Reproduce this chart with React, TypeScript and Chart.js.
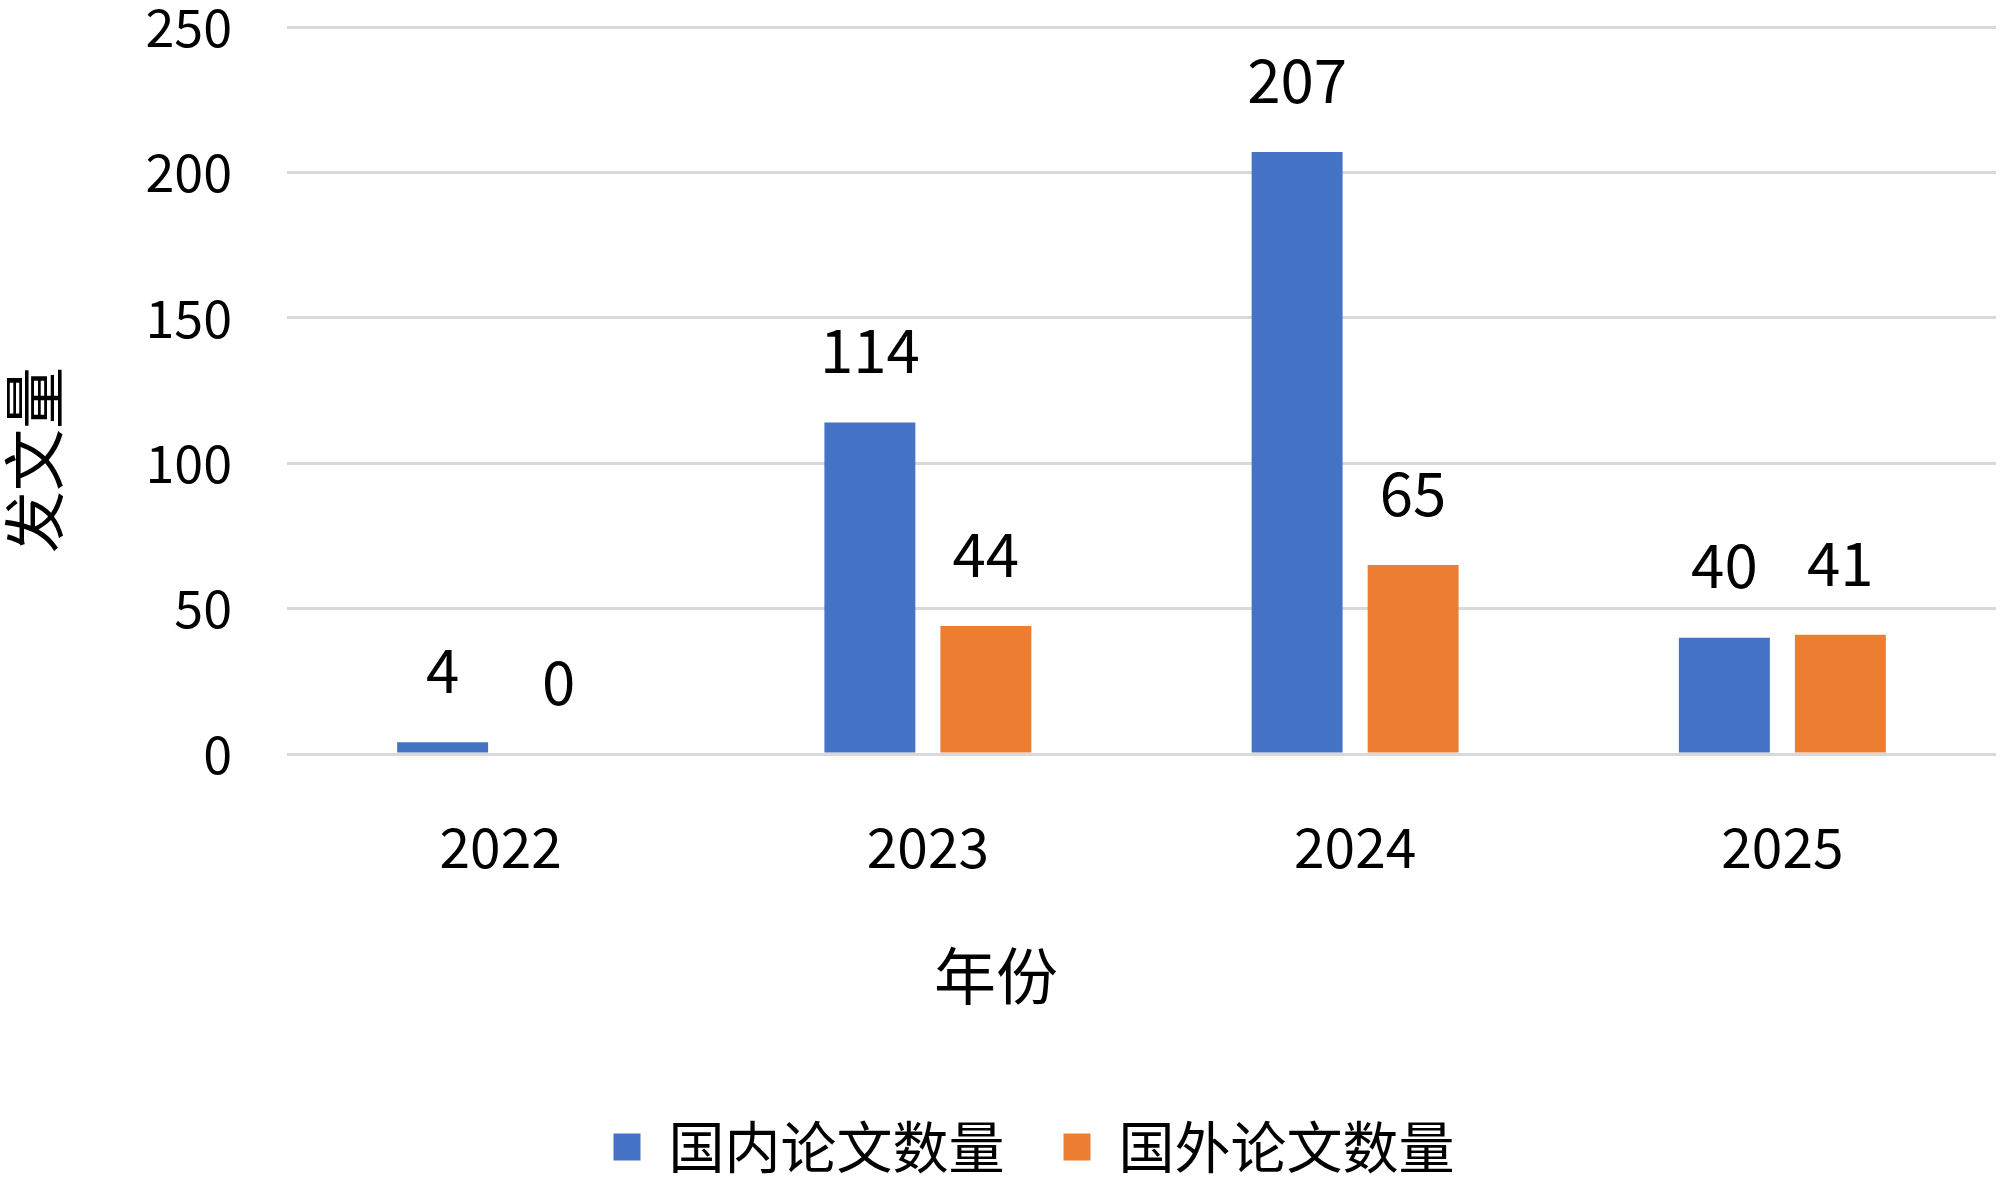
import React, { useEffect, useRef } from 'react';
import { Chart, registerables } from 'chart.js';

Chart.register(...registerables);

const categories = ['2022', '2023', '2024', '2025'];
const domesticPapers = [4, 114, 207, 40];
const foreignPapers = [0, 44, 65, 41];
const seriesNames = ['国内论文数量', '国外论文数量'];
const seriesColors = ['#4472C4', '#ED7D31'];
const yTickMin = 0;
const yTickMax = 250;
const yTickStep = 50;
const xAxisTitle = '年份';
const yAxisTitle = '发文量';

const FONT = '"Noto Sans CJK SC", "Noto Sans", sans-serif';
const W = 2000;
const H = 1185;

const dataLabelPlugin = {
  id: 'dataLabels',
  afterDatasetsDraw(chart: any) {
    const ctx = chart.ctx;
    ctx.save();
    ctx.font = `60px ${FONT}`;
    ctx.fillStyle = '#000';
    ctx.textAlign = 'center';
    ctx.textBaseline = 'middle';
    chart.data.datasets.forEach((ds: any, i: number) => {
      const meta = chart.getDatasetMeta(i);
      meta.data.forEach((el: any, j: number) => {
        ctx.fillText(String(ds.data[j]), el.x, el.y - 72);
      });
    });
    ctx.restore();
  },
};

const axisTitlePlugin = {
  id: 'axisTitles',
  afterDraw(chart: any) {
    const ctx = chart.ctx;
    ctx.save();
    ctx.fillStyle = '#000';
    ctx.textAlign = 'center';
    ctx.textBaseline = 'middle';
    ctx.font = `62px ${FONT}`;
    ctx.fillText(xAxisTitle, 996, 976);
    ctx.translate(34, 460);
    ctx.rotate(-Math.PI / 2);
    ctx.fillText(yAxisTitle, 0, 0);
    ctx.restore();
  },
};

const legendShiftPlugin = {
  id: 'legendShift',
  afterLayout(chart: any) {
    const lg = chart.legend;
    if (lg) {
      lg.left += 36;
      lg.right += 36;
    }
  },
};

export default function App() {
  const ref = useRef<HTMLCanvasElement | null>(null);

  useEffect(() => {
    if (!ref.current) return;
    Chart.defaults.font.family = FONT;
    const chart = new Chart(ref.current, {
      type: 'bar',
      data: {
        labels: categories,
        datasets: [
          {
            label: seriesNames[0],
            data: domesticPapers,
            backgroundColor: seriesColors[0],
            borderWidth: 0,
            categoryPercentage: 0.543,
            barPercentage: 0.784,
          },
          {
            label: seriesNames[1],
            data: foreignPapers,
            backgroundColor: seriesColors[1],
            borderWidth: 0,
            categoryPercentage: 0.543,
            barPercentage: 0.784,
          },
        ],
      },
      options: {
        responsive: false,
        animation: false,
        devicePixelRatio: 1,
        layout: { padding: { top: 27, right: 4, left: 0, bottom: 0 } },
        plugins: {
          legend: {
            position: 'bottom',
            labels: {
              boxWidth: 27,
              boxHeight: 27,
              padding: 59,
              color: '#000',
              font: { size: 56, family: FONT },
            },
          },
          tooltip: { enabled: false },
        },
        scales: {
          x: {
            grid: { display: false, drawTicks: false },
            border: { display: false },
            ticks: { color: '#000', font: { size: 55, family: FONT }, padding: 60 },
            afterFit(scale: any) {
              scale.height = 306;
              scale.paddingLeft = 0;
              scale.paddingRight = 0;
            },
          },
          y: {
            min: yTickMin,
            max: yTickMax,
            grid: { color: '#D9D9D9', lineWidth: 3, drawTicks: false },
            border: { display: false },
            ticks: {
              stepSize: yTickStep,
              color: '#000',
              font: { size: 52, family: FONT },
              padding: 55,
            },
            afterFit(scale: any) {
              scale.width = 287;
              scale.paddingTop = 0;
              scale.paddingBottom = 0;
            },
          },
        },
      },
      plugins: [dataLabelPlugin, axisTitlePlugin, legendShiftPlugin],
    });
    return () => chart.destroy();
  }, []);

  return (
    <div style={{ position: 'absolute', left: 0, top: 0, width: W, height: H, background: '#fff' }}>
      <canvas ref={ref} width={W} height={H} style={{ width: W, height: H, display: 'block' }} />
    </div>
  );
}
